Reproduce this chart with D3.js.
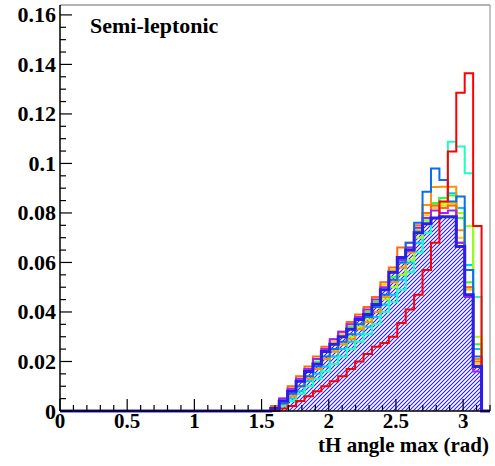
<!DOCTYPE html>
<html>
<head>
<meta charset="utf-8">
<script src="https://cdn.jsdelivr.net/npm/d3@7/dist/d3.min.js"></script>
<style>
  body { margin: 0; background: #fff; }
  svg text { font-family: "Liberation Serif", "Times New Roman", serif; font-weight: bold; fill: #000; }
</style>
</head>
<body>
<svg id="chart"></svg>
<script>
// histogram binning (bins 0..50 over 0..3.2, only bins 25..49 are non-empty)
const xMax = 3.2;
const binCount = 51;
const firstBin = 25;

// bin contents, bins 25..49
const red         = [0.000, 0.001, 0.002, 0.004, 0.006, 0.008, 0.010, 0.012, 0.014, 0.017, 0.020, 0.023, 0.026, 0.0275, 0.030, 0.0355, 0.041, 0.047, 0.057, 0.068, 0.0846, 0.1048, 0.1286, 0.1364, 0.0747];
const turquoise   = [0.000, 0.002, 0.004, 0.007, 0.010, 0.013, 0.016, 0.019, 0.022, 0.025, 0.028, 0.031, 0.035, 0.040, 0.044, 0.049, 0.056, 0.064, 0.072, 0.078, 0.082, 0.1088, 0.1068, 0.096, 0.046];
const lightBlue   = [0.000, 0.002, 0.005, 0.008, 0.012, 0.015, 0.018, 0.022, 0.025, 0.028, 0.031, 0.034, 0.038, 0.043, 0.047, 0.053, 0.060, 0.068, 0.077, 0.083, 0.086, 0.088, 0.082, 0.059, 0.025];
const blue        = [0.001, 0.003, 0.007, 0.010, 0.014, 0.018, 0.022, 0.025, 0.028, 0.031, 0.035, 0.038, 0.042, 0.047, 0.053, 0.060, 0.068, 0.076, 0.0886, 0.098, 0.0933, 0.0846, 0.0866, 0.057, 0.022];
const orange      = [0.001, 0.003, 0.006, 0.010, 0.013, 0.017, 0.021, 0.024, 0.027, 0.029, 0.033, 0.036, 0.040, 0.046, 0.052, 0.058, 0.064, 0.0725, 0.0832, 0.0905, 0.0906, 0.0906, 0.073, 0.050, 0.021];
const orangeRed   = [0.002, 0.005, 0.010, 0.014, 0.018, 0.022, 0.026, 0.029, 0.032, 0.036, 0.039, 0.042, 0.046, 0.052, 0.058, 0.066, 0.068, 0.075, 0.080, 0.083, 0.082, 0.083, 0.068, 0.050, 0.020];
const yellowGreen = [0.000, 0.003, 0.006, 0.010, 0.014, 0.017, 0.021, 0.024, 0.027, 0.030, 0.034, 0.037, 0.040, 0.045, 0.050, 0.055, 0.061, 0.070, 0.077, 0.082, 0.084, 0.083, 0.080, 0.0747, 0.030];
const green       = [0.001, 0.004, 0.008, 0.012, 0.016, 0.020, 0.024, 0.027, 0.030, 0.034, 0.037, 0.040, 0.044, 0.049, 0.054, 0.060, 0.065, 0.073, 0.078, 0.084, 0.086, 0.087, 0.078, 0.052, 0.027];
const yellow      = [0.001, 0.004, 0.009, 0.013, 0.017, 0.021, 0.025, 0.028, 0.031, 0.035, 0.038, 0.041, 0.045, 0.051, 0.057, 0.062, 0.066, 0.074, 0.079, 0.082, 0.083, 0.084, 0.070, 0.049, 0.019];
const violet      = [0.001, 0.005, 0.009, 0.013, 0.017, 0.021, 0.025, 0.029, 0.032, 0.035, 0.038, 0.041, 0.045, 0.050, 0.056, 0.061, 0.066, 0.074, 0.078, 0.081, 0.080, 0.081, 0.068, 0.046, 0.016];
const darkBlue    = [0.001, 0.004, 0.008, 0.012, 0.016, 0.019, 0.024, 0.027, 0.030, 0.033, 0.037, 0.039, 0.043, 0.049, 0.056, 0.062, 0.065, 0.072, 0.0756, 0.078, 0.0785, 0.0785, 0.0664, 0.047, 0.018];

const lineSeries = [
  { values: lightBlue,   color: "#00c8ff" },
  { values: turquoise,   color: "#19ffc4" },
  { values: yellowGreen, color: "#a0ff00" },
  { values: green,       color: "#33ff22" },
  { values: yellow,      color: "#ffd000" },
  { values: orange,      color: "#ff9000" },
  { values: orangeRed,   color: "#ff6a10" },
  { values: violet,      color: "#a020ff" },
  { values: blue,        color: "#0a6cf0" },
  { values: red,         color: "#ff0000" }
];
const hatchColor = "#2a1ee8";

const xTicks = [0, 0.5, 1, 1.5, 2, 2.5, 3];
const yTicks = [0, 0.02, 0.04, 0.06, 0.08, 0.1, 0.12, 0.14, 0.16];
const xTitle = "tH angle max (rad)";
const label = "Semi-leptonic";

const width = 495, height = 466;
const margin = { top: 5, right: 5, bottom: 55, left: 60 };
const yMax = 0.164;

const svg = d3.select("#chart").attr("width", width).attr("height", height);

const x = d3.scaleLinear().domain([0, xMax]).range([margin.left, width - margin.right]);
const y = d3.scaleLinear().domain([0, yMax]).range([height - margin.bottom, margin.top]);

const binWidth = xMax / binCount;

// full bin list with the empty bins
function toPoints(vals) {
  const pts = [];
  for (let i = 0; i < binCount; i++) {
    const j = i - firstBin;
    const v = (j >= 0 && j < vals.length) ? vals[j] : 0;
    pts.push([i * binWidth, v]);
  }
  pts.push([xMax, 0]);
  return pts;
}

const step = d3.line().x(d => x(d[0])).y(d => y(d[1])).curve(d3.curveStepAfter);
const area = d3.area().x(d => x(d[0])).y0(y(0)).y1(d => y(d[1])).curve(d3.curveStepAfter);

// hatch pattern
const defs = svg.append("defs");
defs.append("pattern")
  .attr("id", "hatch")
  .attr("patternUnits", "userSpaceOnUse")
  .attr("width", 4).attr("height", 4)
  .append("path")
  .attr("d", "M-1,1 L1,-1 M0,4 L4,0 M3,5 L5,3")
  .attr("stroke", hatchColor)
  .attr("stroke-width", 1.1);

svg.append("path")
  .attr("d", area(toPoints(darkBlue)))
  .attr("fill", "url(#hatch)");

lineSeries.forEach(s => {
  svg.append("path")
    .attr("d", step(toPoints(s.values)))
    .attr("fill", "none")
    .attr("stroke", s.color)
    .attr("stroke-width", 2);
});

svg.append("path")
  .attr("d", step(toPoints(darkBlue)))
  .attr("fill", "none")
  .attr("stroke", hatchColor)
  .attr("stroke-width", 3);

// frame
svg.append("line")
  .attr("x1", x(0)).attr("x2", x(xMax)).attr("y1", y(yMax)).attr("y2", y(yMax))
  .attr("stroke", "#666").attr("stroke-width", 1);
svg.append("line")
  .attr("x1", x(xMax)).attr("x2", x(xMax)).attr("y1", y(yMax)).attr("y2", y(0))
  .attr("stroke", "#888").attr("stroke-width", 1);

// y axis (ticks inside)
const yAxis = svg.append("g").attr("transform", `translate(${margin.left},0)`);
yAxis.append("line")
  .attr("x1", 0).attr("x2", 0).attr("y1", y(yMax)).attr("y2", y(0))
  .attr("stroke", "#000").attr("stroke-width", 1.5);
d3.range(0, 33).map(k => k * 0.005).forEach((v, k) => {
  const major = k % 4 === 0;
  yAxis.append("line")
    .attr("x1", 0).attr("x2", major ? 12 : 6)
    .attr("y1", y(v)).attr("y2", y(v))
    .attr("stroke", "#000").attr("stroke-width", 1.2);
});
yAxis.selectAll(".ylab")
  .data(yTicks)
  .enter()
  .append("text")
  .attr("x", -4)
  .attr("y", d => y(d) + 7.5)
  .attr("text-anchor", "end")
  .style("font-size", "22px")
  .text(d => d3.format("")(d));

// x axis (ticks inside)
const xAxis = svg.append("g").attr("transform", `translate(0,${y(0)})`);
xAxis.append("line")
  .attr("x1", x(0)).attr("x2", x(xMax)).attr("y1", 0).attr("y2", 0)
  .attr("stroke", "#000").attr("stroke-width", 1.5);
d3.range(0, 33).map(k => k * 0.1).forEach((v, k) => {
  const major = k % 5 === 0;
  xAxis.append("line")
    .attr("x1", x(v)).attr("x2", x(v))
    .attr("y1", 0).attr("y2", major ? -12 : -6)
    .attr("stroke", "#000").attr("stroke-width", 1.2);
});
xAxis.selectAll(".xlab")
  .data(xTicks)
  .enter()
  .append("text")
  .attr("x", d => x(d))
  .attr("y", 17)
  .attr("text-anchor", "middle")
  .style("font-size", "21px")
  .text(d => d3.format("")(d));

svg.append("text")
  .attr("x", 489)
  .attr("y", 452)
  .attr("text-anchor", "end")
  .style("font-size", "21px")
  .text(xTitle);

svg.append("text")
  .attr("x", 90)
  .attr("y", 33)
  .style("font-size", "22px")
  .text(label);
</script>
</body>
</html>
